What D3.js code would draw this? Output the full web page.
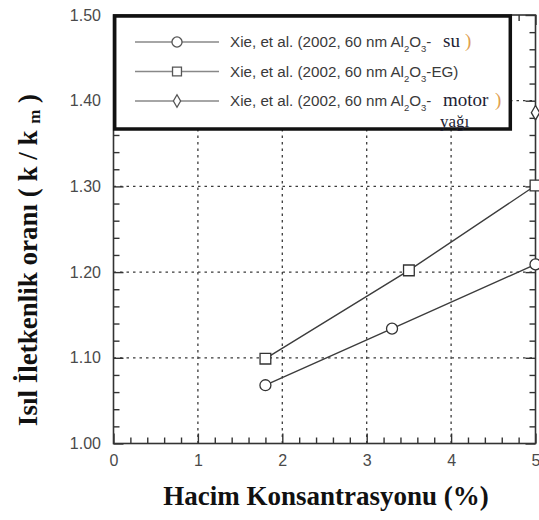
<!DOCTYPE html>
<html>
<head>
<meta charset="utf-8">
<script src="https://cdn.jsdelivr.net/npm/d3@7"></script>
<style>
  html, body { margin: 0; padding: 0; background: #fff; }
  svg { display: block; }
</style>
</head>
<body>
<script>
// Thermal conductivity ratio of 60 nm Al2O3 nanofluids vs. volume concentration
const xMajor = [0, 1, 2, 3, 4, 5];
const yMajor = [1.00, 1.10, 1.20, 1.30, 1.40, 1.50];

const suConc  = [1.8, 3.3, 5.0];
const suRatio = [1.068, 1.134, 1.209];

const egConc  = [1.8, 3.5, 5.0];
const egRatio = [1.099, 1.202, 1.301];

const oilConc  = [5.0];
const oilRatio = [1.386];

const series = [
  { name: "su",    conc: suConc,  ratio: suRatio,  symbol: "circle" },
  { name: "EG",    conc: egConc,  ratio: egRatio,  symbol: "square" },
  { name: "motor", conc: oilConc, ratio: oilRatio, symbol: "diamond" }
];

const W = 539, H = 520;
const svg = d3.select("body").append("svg").attr("width", W).attr("height", H);

const x = d3.scaleLinear().domain([0, 5]).range([113.5, 535.5]);
const y = d3.scaleLinear().domain([1.0, 1.5]).range([443.5, 15]);

const xMinor = d3.range(0, 51, 2).map(v => v / 10).filter(v => !xMajor.includes(v));
const yMinor = d3.range(100, 151, 2).map(v => v / 100).filter(v => !yMajor.some(m => Math.abs(m - v) < 1e-9));

// dotted grid
const grid = svg.append("g").attr("stroke", "#3a3a3a").attr("stroke-width", 1.3)
  .attr("stroke-dasharray", "2.5,4");
grid.selectAll("line.v").data(xMajor.slice(1, -1)).join("line")
  .attr("x1", d => x(d)).attr("x2", d => x(d)).attr("y1", y(1.0)).attr("y2", y(1.5));
grid.selectAll("line.h").data(yMajor.slice(1, -1)).join("line")
  .attr("x1", x(0)).attr("x2", x(5)).attr("y1", d => y(d)).attr("y2", d => y(d));

// frame ticks (inward) on all four sides
function styleAxis(g) {
  g.select(".domain").remove();
  g.selectAll(".tick line").attr("stroke", "#333").attr("stroke-width", 1.4);
  g.selectAll(".tick text").attr("fill", "#4a4a4a")
    .style("font-family", "'Liberation Sans', Arial, sans-serif").style("font-size", "16px");
}
const axes = svg.append("g");
axes.append("g").attr("transform", `translate(0,${y(1.0)})`)
  .call(d3.axisBottom(x).tickValues(xMajor).tickSizeInner(-10).tickSizeOuter(0).tickPadding(11)
    .tickFormat(d3.format("d"))).call(styleAxis);
axes.append("g").attr("transform", `translate(0,${y(1.0)})`)
  .call(d3.axisBottom(x).tickValues(xMinor).tickSize(-6).tickFormat("")).call(styleAxis);
axes.append("g").attr("transform", `translate(0,${y(1.5)})`)
  .call(d3.axisTop(x).tickValues(xMajor).tickSize(-10).tickFormat("")).call(styleAxis);
axes.append("g").attr("transform", `translate(0,${y(1.5)})`)
  .call(d3.axisTop(x).tickValues(xMinor).tickSize(-6).tickFormat("")).call(styleAxis);
axes.append("g").attr("transform", `translate(${x(0)},0)`)
  .call(d3.axisLeft(y).tickValues(yMajor).tickSizeInner(-10).tickSizeOuter(0).tickPadding(12.5)
    .tickFormat(d3.format(".2f"))).call(styleAxis);
axes.append("g").attr("transform", `translate(${x(0)},0)`)
  .call(d3.axisLeft(y).tickValues(yMinor).tickSize(-6).tickFormat("")).call(styleAxis);
axes.append("g").attr("transform", `translate(${x(5)},0)`)
  .call(d3.axisRight(y).tickValues(yMajor).tickSize(-10).tickFormat("")).call(styleAxis);
axes.append("g").attr("transform", `translate(${x(5)},0)`)
  .call(d3.axisRight(y).tickValues(yMinor).tickSize(-6).tickFormat("")).call(styleAxis);

// plot frame
svg.append("rect").attr("x", x(0)).attr("y", y(1.5))
  .attr("width", x(5) - x(0)).attr("height", y(1.0) - y(1.5))
  .attr("fill", "none").attr("stroke", "#333").attr("stroke-width", 1.6);

// data lines and markers
const symbolOf = { circle: d3.symbolCircle, square: d3.symbolSquare, diamond: d3.symbolDiamond };
const symbolSize = { circle: 95, square: 115, diamond: 60 };
const line = d3.line().x(d => x(d[0])).y(d => y(d[1]));
const plot = svg.append("g");
series.forEach(s => {
  const pts = s.conc.map((c, i) => [c, s.ratio[i]]);
  plot.append("path").datum(pts).attr("d", line)
    .attr("fill", "none").attr("stroke", "#3c3c3c").attr("stroke-width", 1.4);
  plot.selectAll(null).data(pts).join("path")
    .attr("transform", d => `translate(${x(d[0])},${y(d[1])})`)
    .attr("d", d3.symbol().type(symbolOf[s.symbol]).size(symbolSize[s.symbol]))
    .attr("fill", "#fff").attr("stroke", "#333").attr("stroke-width", 1.3);
});

// legend
const lg = svg.append("g");
lg.append("rect").attr("x", 114.7).attr("y", 16).attr("width", 395.6).attr("height", 113)
  .attr("fill", "#fff").attr("stroke", "#111").attr("stroke-width", 3.5);

const rowY = [42, 71.5, 101];
const sans = "'Liberation Sans', Arial, sans-serif";
const serif = "'Liberation Serif', 'Times New Roman', serif";
series.forEach((s, i) => {
  const ly = rowY[i];
  lg.append("line").attr("x1", 135).attr("x2", 219).attr("y1", ly).attr("y2", ly)
    .attr("stroke", "#888").attr("stroke-width", 1.6);
  lg.append("path").attr("transform", `translate(177,${ly})`)
    .attr("d", d3.symbol().type(symbolOf[s.symbol]).size(s.symbol === "diamond" ? 45 : 80))
    .attr("fill", "#fff").attr("stroke", "#555").attr("stroke-width", 1.3);

  const t = lg.append("text").attr("x", 230).attr("y", ly + 5)
    .attr("fill", "#3a3a3a").style("font-family", sans).style("font-size", "15.2px");
  t.append("tspan").text("Xie, et al. (2002, 60 nm Al");
  t.append("tspan").attr("dy", 5).style("font-size", "9.5px").text("2");
  t.append("tspan").attr("dy", -5).text("O");
  t.append("tspan").attr("dy", 5).style("font-size", "9.5px").text("3");
  if (s.name === "EG") {
    t.append("tspan").attr("dy", -5).text("-EG)");
  } else {
    t.append("tspan").attr("dy", -5).text("-");
    lg.append("text").attr("x", 443).attr("y", ly + 5).attr("fill", "#1e1e34")
      .style("font-family", serif).style("font-size", "19px").text(s.name);
    lg.append("text").attr("x", s.name === "su" ? 465 : 495).attr("y", ly + 5).attr("fill", "#e0a050")
      .style("font-family", serif).style("font-size", "19px").text(")");
  }
});
lg.append("text").attr("x", 440).attr("y", 127).attr("fill", "#1e1e34")
  .style("font-family", serif).style("font-size", "17px").text("yağı");

// axis titles
svg.append("text").attr("x", 326).attr("y", 505).attr("text-anchor", "middle")
  .attr("fill", "#111").style("font-family", serif).style("font-weight", "bold").style("font-size", "27px")
  .text("Hacim Konsantrasyonu (%)");

const yt = svg.append("text").attr("transform", "translate(37,260) rotate(-90)")
  .attr("text-anchor", "middle").attr("fill", "#111")
  .style("font-family", serif).style("font-weight", "bold").style("font-size", "27px");
yt.append("tspan").text("Isıl İletkenlik oranı ( k / k ");
yt.append("tspan").attr("dy", 3).style("font-size", "17px").text("m");
yt.append("tspan").attr("dy", -3).text(" )");
</script>
</body>
</html>
